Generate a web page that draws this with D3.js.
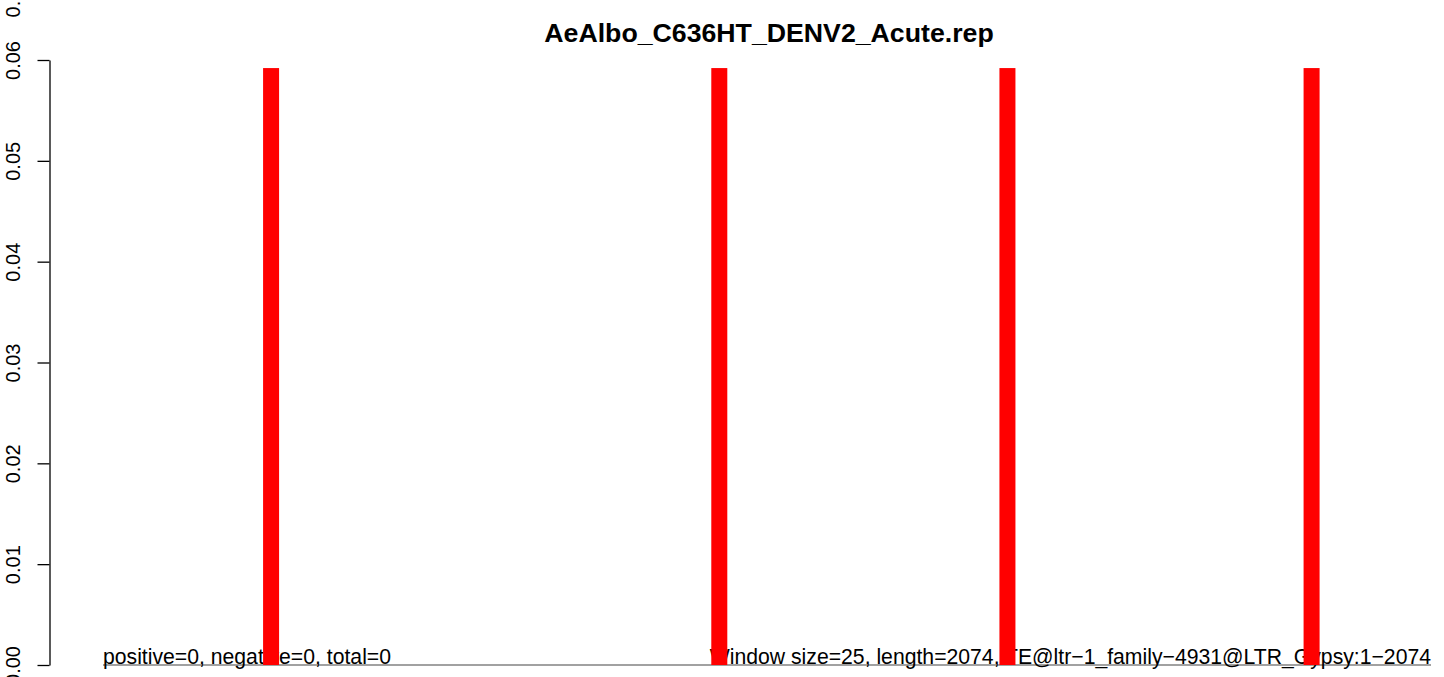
<!DOCTYPE html>
<html>
<head>
<meta charset="utf-8">
<script src="https://cdn.jsdelivr.net/npm/d3@7/dist/d3.min.js"></script>
<style>
  html, body { margin: 0; padding: 0; background: #fff; }
  svg { display: block; }
  text { font-family: "Liberation Sans", Arial, Helvetica, sans-serif; }
</style>
</head>
<body>
<script>
// ---- data ----
const title = "AeAlbo_C636HT_DENV2_Acute.rep";
const seqLength = 2074;
const windowSize = 25;
const windowStarts = [250, 950, 1400, 1875];     // window start positions (bp)
const windowValues = [0.0592, 0.0592, 0.0592, 0.0592];
const yTicks = [0.00, 0.01, 0.02, 0.03, 0.04, 0.05, 0.06];
const yTickLabels = ["0.00", "0.01", "0.02", "0.03", "0.04", "0.05", "0.06"];
const leftNote = "positive=0, negative=0, total=0";
const rightNote = "Window size=25, length=2074, TE@ltr\u22121_family\u22124931@LTR_Gypsy:1\u22122074";
const strayLabel = "0.07";

// ---- layout ----
const W = 1444, H = 677;
const svg = d3.select("body").append("svg").attr("width", W).attr("height", H);

const x = d3.scaleLinear().domain([0, seqLength]).range([103, 1431]);
const y = d3.scaleLinear().domain([0, 0.06]).range([665, 60]);

// title
svg.append("text")
  .attr("x", 769).attr("y", 42)
  .attr("text-anchor", "middle")
  .style("font-size", "26.7px").style("font-weight", "bold")
  .text(title);

// y axis
const axisX = 49.5;
const yAxis = d3.axisLeft(y).tickValues(yTicks)
  .tickFormat((d, i) => yTickLabels[i]).tickSize(12).tickSizeOuter(0).tickPadding(0);
const gy = svg.append("g").attr("transform", `translate(${axisX},0)`).call(yAxis);
gy.select(".domain").attr("stroke", "#000").attr("stroke-width", 1.3);
gy.selectAll(".tick line").attr("stroke", "#000").attr("stroke-width", 1.3);
gy.selectAll(".tick text")
  .attr("x", 0).attr("y", 0).attr("dy", 0)
  .attr("transform", "translate(-29.5,0) rotate(-90)")
  .attr("text-anchor", "middle")
  .attr("fill", "#000")
  .style("font-size", "20px")
  .style("font-family", "'Liberation Sans', Arial, sans-serif");

// stray label from panel above (partially visible)
svg.append("text")
  .attr("transform", `translate(20,-2) rotate(-90)`)
  .attr("text-anchor", "middle")
  .style("font-size", "20px")
  .text(strayLabel);

// baseline line
svg.append("line")
  .attr("x1", x(0)).attr("x2", x(seqLength))
  .attr("y1", y(0)).attr("y2", y(0))
  .attr("stroke", "#444").attr("stroke-width", 1.2);

// bottom notes
svg.append("text")
  .attr("x", x(0)).attr("y", 664)
  .style("font-size", "21.2px")
  .text(leftNote);
svg.append("text")
  .attr("x", x(seqLength)).attr("y", 664)
  .attr("text-anchor", "end")
  .style("font-size", "21.2px")
  .text(rightNote);

// bars (drawn on top of text)
const data = windowStarts.map((s, i) => ({ start: s, value: windowValues[i] }));
svg.append("g").selectAll("rect").data(data).enter().append("rect")
  .attr("x", d => x(d.start))
  .attr("width", d => x(d.start + windowSize) - x(d.start))
  .attr("y", d => y(d.value))
  .attr("height", d => y(0) - y(d.value))
  .attr("fill", "#ff0000");
</script>
</body>
</html>
